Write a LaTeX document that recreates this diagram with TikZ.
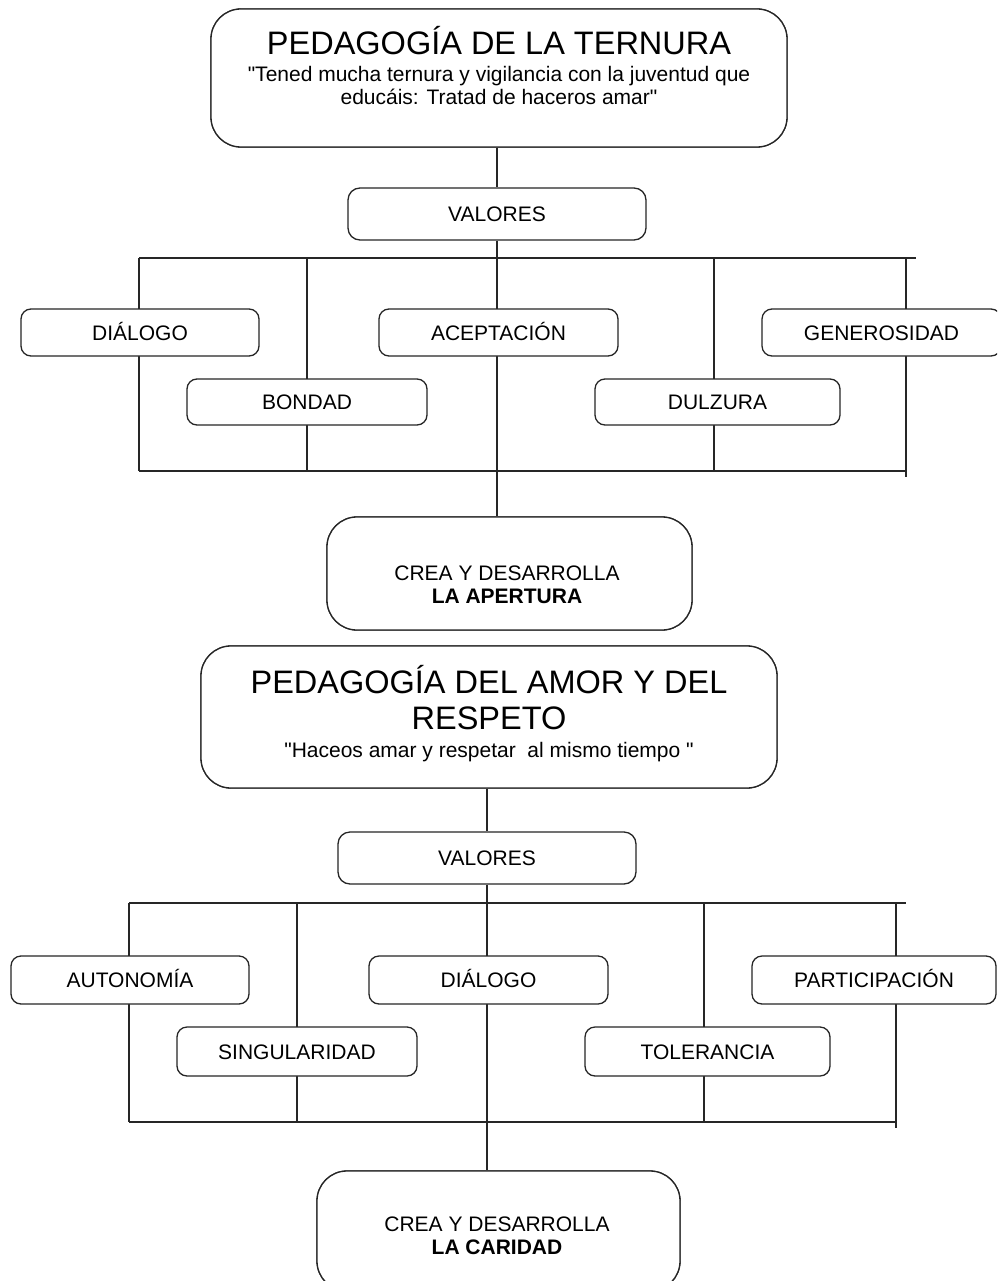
\documentclass[tikz,border=0pt]{standalone}
\usepackage{fontspec}
\setmainfont{Liberation Sans}[Ligatures=TeXOff]
\begin{document}
\begin{tikzpicture}[x=1pt,y=-1pt,
  ln/.style={line width=1.3pt, draw=black!85},
  bigbox/.style={draw=black!85, line width=1.3pt, rounded corners=30pt, fill=white, inner sep=0pt},
  valbox/.style={draw=black!85, line width=1.3pt, rounded corners=12pt, fill=white, inner sep=0pt,
    font=\fontsize{21}{24}\selectfont, text height=15pt, text depth=0pt},
  itembox/.style={draw=black!85, line width=1.3pt, rounded corners=10pt, fill=white, inner sep=0pt,
    font=\fontsize{21}{24}\selectfont, text height=15pt, text depth=0pt},
  titletext/.style={inner sep=0pt, font=\fontsize{32.5}{36}\selectfont},
  subtext/.style={inner sep=0pt, font=\fontsize{21}{24}\selectfont},
]
\useasboundingbox (0,0) rectangle (997,1281);
\clip (0,0) rectangle (997,1281);
\fill[white] (0,0) rectangle (997,1281);

% ---------------- Section 1 ----------------
\coordinate (a1) at (139,258); \coordinate (a2) at (916,258);
\coordinate (b1) at (139,471); \coordinate (b2) at (906,471);
\coordinate (v2t) at (307,258); \coordinate (v2b) at (307,471);
\coordinate (v4t) at (714,258); \coordinate (v4b) at (714,471);
\coordinate (v5t) at (906,258); \coordinate (v5b) at (906,477);

\node[bigbox, minimum width=576pt, minimum height=138pt] (tern) at (499,78) {};
\node[valbox, minimum width=298pt, minimum height=52pt] (val1) at (497,214) {VALORES};
\node[bigbox, minimum width=365pt, minimum height=113pt] (crea1) at (509.5,573.5) {};

\draw[ln] (val1.north |- tern.south) -- (val1.north);
\draw[ln] (val1.south) -- (val1.south |- crea1.north);
\draw[ln] (a1) -- (a2);
\draw[ln] (b1) -- (b2);
\draw[ln] (a1) -- (b1);
\draw[ln] (v2t) -- (v2b);
\draw[ln] (v4t) -- (v4b);
\draw[ln] (v5t) -- (v5b);

\node[bigbox, minimum width=576pt, minimum height=138pt] at (tern) {};
\node[titletext, anchor=base] (ternT) at (499,55) {PEDAGOGÍA DE LA TERNURA};
\node[subtext, anchor=base] (ternS1) at (499,82) {"Tened mucha ternura y vigilancia con la juventud que};
\node[subtext, anchor=base] (ternS2) at (499,105) {educáis: Tratad de haceros amar"};

\node[itembox, minimum width=238pt, minimum height=47pt] (dial1) at (140,332.5) {DIÁLOGO};
\node[itembox, minimum width=239pt, minimum height=47pt] (acep) at (498.5,332.5) {ACEPTACIÓN};
\node[itembox, minimum width=239pt, minimum height=47pt] (gene) at (881.5,332.5) {GENEROSIDAD};
\node[itembox, minimum width=240pt, minimum height=46pt] (bond) at (307,402) {BONDAD};
\node[itembox, minimum width=245pt, minimum height=46pt] (dulz) at (717.5,402) {DULZURA};

\node[bigbox, minimum width=365pt, minimum height=113pt] at (crea1) {};
\node[subtext, anchor=base] (crea1a) at (507,580) {CREA Y DESARROLLA};
\node[subtext, anchor=base, font=\fontsize{21}{24}\selectfont\bfseries] (crea1b) at (507,603) {LA APERTURA};

% ---------------- Section 2 ----------------
\coordinate (c1) at (129,903); \coordinate (c2) at (906,903);
\coordinate (d1) at (129,1122); \coordinate (d2) at (896,1122);
\coordinate (w2t) at (297,903); \coordinate (w2b) at (297,1122);
\coordinate (w4t) at (704,903); \coordinate (w4b) at (704,1122);
\coordinate (w5t) at (896,903); \coordinate (w5b) at (896,1128);

\node[bigbox, minimum width=576pt, minimum height=142pt] (amor) at (489,717) {};
\node[valbox, minimum width=298pt, minimum height=52pt] (val2) at (487,858) {VALORES};
\node[bigbox, minimum width=363pt, minimum height=120pt] (crea2) at (498.5,1231) {};

\draw[ln] (val2.north |- amor.south) -- (val2.north);
\draw[ln] (val2.south) -- (val2.south |- crea2.north);
\draw[ln] (c1) -- (c2);
\draw[ln] (d1) -- (d2);
\draw[ln] (c1) -- (d1);
\draw[ln] (w2t) -- (w2b);
\draw[ln] (w4t) -- (w4b);
\draw[ln] (w5t) -- (w5b);

\node[bigbox, minimum width=576pt, minimum height=142pt] at (amor) {};
\node[titletext, anchor=base] (amorT1) at (489,693) {PEDAGOGÍA DEL AMOR Y DEL};
\node[titletext, anchor=base] (amorT2) at (489,729) {RESPETO};
\node[subtext, anchor=base] (amorS) at (489,757) {"Haceos amar y respetar\ \ al mismo tiempo\ "};

\node[itembox, minimum width=238pt, minimum height=48pt] (auto) at (130,980) {AUTONOMÍA};
\node[itembox, minimum width=239pt, minimum height=48pt] (dial2) at (488.5,980) {DIÁLOGO};
\node[itembox, minimum width=244pt, minimum height=48pt] (part) at (874,980) {PARTICIPACIÓN};
\node[itembox, minimum width=240pt, minimum height=49pt] (sing) at (297,1051.5) {SINGULARIDAD};
\node[itembox, minimum width=245pt, minimum height=49pt] (tole) at (707.5,1051.5) {TOLERANCIA};

\node[bigbox, minimum width=363pt, minimum height=120pt] at (crea2) {};
\node[subtext, anchor=base] (crea2a) at (497,1231) {CREA Y DESARROLLA};
\node[subtext, anchor=base, font=\fontsize{21}{24}\selectfont\bfseries] (crea2b) at (497,1254) {LA CARIDAD};
\end{tikzpicture}
\end{document}
